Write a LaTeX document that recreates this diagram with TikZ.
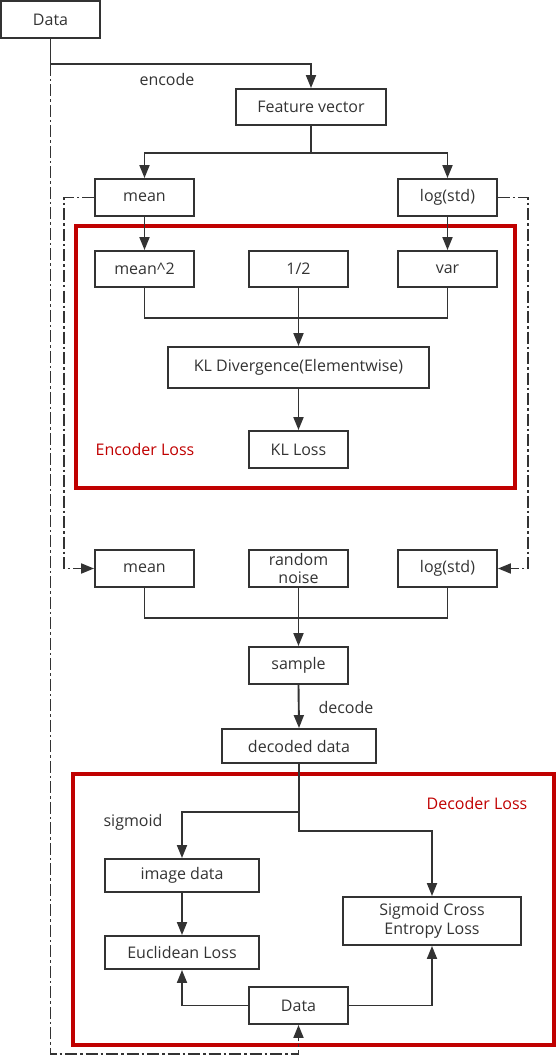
\documentclass[tikz,border=0pt]{standalone}
\usepackage{fontspec}
\setmainfont{Open Sans}
\usetikzlibrary{arrows.meta}
\definecolor{ink}{HTML}{333333}
\definecolor{lossred}{HTML}{C00000}
\tikzset{
  box/.style={draw=ink, line width=1.9pt, text=ink, inner sep=0pt, minimum width=99pt, minimum height=37pt, align=center, font=\fontsize{16}{19.5}\selectfont},
  lbl/.style={text=ink, inner sep=0pt, font=\fontsize{16}{19.5}\selectfont},
  redlbl/.style={text=lossred, inner sep=0pt, font=\fontsize{16}{19.5}\selectfont},
  conn/.style={draw=ink, line width=1.9pt},
  arr/.style={conn, -{Triangle[length=13pt,width=10pt]}},
  dd/.style={draw=ink, line width=2.5pt, dash pattern=on 12pt off 3pt on 2.5pt off 3pt},
  redframe/.style={draw=lossred, line width=4pt}
}
\begin{document}
\begin{tikzpicture}[x=1pt,y=-1pt]
\useasboundingbox (0,0) rectangle (557,1056);
% frames
\draw[redframe] (76,226) rectangle (515,488);
\draw[redframe] (73,774) rectangle (554,1045);
% nodes
\node[box] (data1) at (50.5,19.5) {Data};
\node[box, minimum width=150pt, minimum height=36pt] (fv) at (311,107) {Feature vector};
\node[box] (mean1) at (144.5,197.5) {mean};
\node[box] (log1) at (447.5,197.5) {log(std)};
\node[box, minimum height=36pt] (meansq) at (144.5,269) {mean\^{}2};
\node[box, minimum height=36pt] (half) at (298.5,269) {1/2};
\node[box, minimum height=36pt] (var) at (447.5,269) {var};
\node[box, minimum width=261pt, minimum height=41pt] (kld) at (298.5,367.5) {KL Divergence(Elementwise)};
\node[box] (kll) at (298.5,449.5) {KL Loss};
\node[redlbl] (enclbl) at (145,449) {Encoder Loss};
\node[box] (mean2) at (144.5,568.5) {mean};
\node[box] (rn) at (298.5,568.5) {random\\[-1.5pt]noise};
\node[box] (log2) at (447.5,568.5) {log(std)};
\node[box] (sample) at (298.5,665.5) {sample};
\node[box, minimum width=154pt, minimum height=34pt] (dec) at (299,746) {decoded data};
\node[redlbl] (declbl) at (477,803) {Decoder Loss};
\node[lbl] (siglbl) at (133,822) {sigmoid};
\node[box, minimum width=154pt, minimum height=33pt] (img) at (182,875.5) {image data};
\node[box, minimum width=154pt, minimum height=33pt] (eucl) at (182,952.5) {Euclidean Loss};
\node[box, minimum width=178pt, minimum height=48pt] (sce) at (432,921) {Sigmoid Cross\\Entropy Loss};
\node[box] (data2) at (298.5,1005.5) {Data};
\node[lbl] (enclab) at (167,80) {encode};
\node[lbl] (declab) at (346,707) {decode};
% connectors
\draw[arr] (data1.south) -- ++(0,25) coordinate (c0) -| (fv.north);
\draw[conn] (fv.south) -- ++(0,27) coordinate (b1);
\draw[arr] (b1) -| (mean1.north);
\draw[arr] (b1) -| (log1.north);
\draw[arr] (mean1.south) -- (meansq.north);
\draw[arr] (log1.south) -- (var.north);
\draw[conn] (meansq.south) -- ++(0,30) -| (var.south);
\draw[arr] (half.south) -- (kld.north);
\draw[arr] (kld.south) -- (kll.north);
\draw[dd, arr] (mean1.west) -- ++(-30,0) |- (mean2.west);
\draw[dd, arr] (log1.east) -- ++(30,0) |- (log2.east);
\draw[conn] (mean2.south) -- ++(0,30) -| (log2.south);
\draw[arr] (rn.south) -- (sample.north);
\draw[arr] (sample.south) -- (dec.north);
\draw[arr] (dec.south) -- ++(0,48) -| (img.north);
\draw[arr] (dec.south) -- ++(0,67) -| (sce.north);
\draw[arr] (img.south) -- (eucl.north);
\draw[arr] (data2.west) -| (eucl.south);
\draw[arr] (data2.east) -| (sce.south);
\draw[dd, arr] (c0) -- ++(0,990) -| (data2.south);
\end{tikzpicture}
\end{document}
